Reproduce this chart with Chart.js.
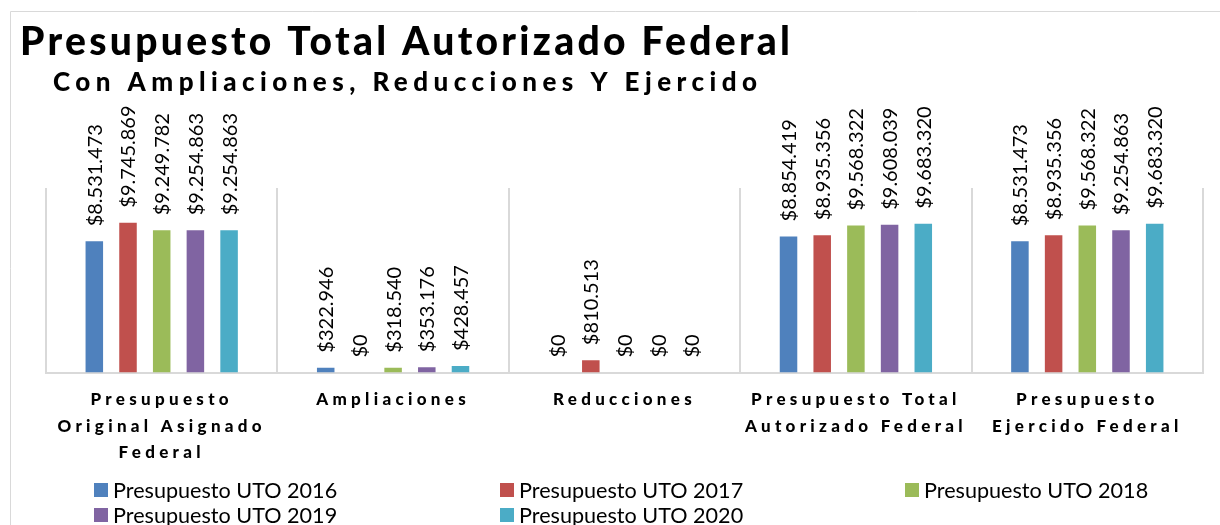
<!DOCTYPE html>
<html><head><meta charset="utf-8">
<script src="https://cdn.jsdelivr.net/npm/chart.js@4.4.1/dist/chart.umd.min.js"></script>
<style>html,body{margin:0;padding:0;background:#fff;} #wrap{width:1220px;height:525px;}</style>
</head><body><div id="wrap"><canvas id="c" width="1220" height="525"></canvas></div>
<script>
const titleText = 'Presupuesto Total Autorizado Federal';
const subtitleText = 'Con Ampliaciones, Reducciones Y Ejercido';
const categories = [
  ['Presupuesto', 'Original Asignado', 'Federal'],
  ['Ampliaciones'],
  ['Reducciones'],
  ['Presupuesto Total', 'Autorizado Federal'],
  ['Presupuesto', 'Ejercido Federal']
];
const seriesNames = ['Presupuesto UTO 2016', 'Presupuesto UTO 2017', 'Presupuesto UTO 2018', 'Presupuesto UTO 2019', 'Presupuesto UTO 2020'];
const uto2016 = [8531473, 322946, 0, 8854419, 8531473];
const uto2017 = [9745869, 0, 810513, 8935356, 8935356];
const uto2018 = [9249782, 318540, 0, 9568322, 9568322];
const uto2019 = [9254863, 353176, 0, 9608039, 9254863];
const uto2020 = [9254863, 428457, 0, 9683320, 9683320];
const seriesColors = ['#4F81BD', '#C0504D', '#9BBB59', '#8064A2', '#4BACC6'];
const yMax = 12000000;

const seriesValues = [uto2016, uto2017, uto2018, uto2019, uto2020];

function fmt(v) {
  return '$' + String(v).replace(/\B(?=(\d{3})+(?!\d))/g, '.');
}

function drawSpaced(ctx, text, x, y, font, target) {
  ctx.font = font;
  ctx.letterSpacing = '0px';
  const w = ctx.measureText(text).width;
  const ls = (target - w) / (text.length - 1);
  ctx.letterSpacing = ls + 'px';
  ctx.fillText(text, x, y);
  ctx.letterSpacing = '0px';
}

const decorPlugin = {
  id: 'decor',
  beforeDraw(chart) {
    const s = chart.scales.x;
    if (s && !s._spacedWrap) {
      const orig = s.drawLabels.bind(s);
      s.drawLabels = function (ca) {
        const c = this.ctx;
        c.save();
        c.letterSpacing = '4.3px';
        orig(ca);
        c.restore();
      };
      s._spacedWrap = true;
    }
  },
  afterDraw(chart) {
    const ctx = chart.ctx;
    ctx.save();
    ctx.strokeStyle = '#d9d9d9';
    ctx.lineWidth = 1;
    ctx.beginPath();
    ctx.moveTo(10.5, 525);
    ctx.lineTo(10.5, 11.5);
    ctx.lineTo(1220, 11.5);
    ctx.stroke();
    ctx.fillStyle = '#000';
    ctx.textAlign = 'left';
    ctx.textBaseline = 'alphabetic';
    drawSpaced(ctx, titleText, 20, 55, '900 39px Lato', 770);
    drawSpaced(ctx, subtitleText, 53, 91, '900 26px Lato', 704);
    const cols = [94, 500, 905];
    const rows = [490, 515];
    ctx.font = '21.6px Lato';
    ctx.textBaseline = 'middle';
    chart.data.datasets.forEach((ds, i) => {
      const bx = cols[i % 3];
      const cy = rows[Math.floor(i / 3)];
      ctx.fillStyle = ds.backgroundColor;
      ctx.fillRect(bx, cy - 7, 14, 14);
      ctx.fillStyle = '#000';
      ctx.fillText(ds.label, bx + 19, cy + 1);
    });
    ctx.restore();
  },
  afterDatasetsDraw(chart) {
    const ctx = chart.ctx;
    ctx.save();
    ctx.font = '20px Lato';
    ctx.fillStyle = '#000';
    ctx.textAlign = 'left';
    ctx.textBaseline = 'middle';
    chart.data.datasets.forEach((ds, di) => {
      const meta = chart.getDatasetMeta(di);
      meta.data.forEach((el, i) => {
        ctx.save();
        ctx.translate(el.x, el.y - 15);
        ctx.rotate(-Math.PI / 2);
        ctx.fillText(fmt(ds.data[i]), 0, 1);
        ctx.restore();
      });
    });
    ctx.restore();
  }
};

new Chart(document.getElementById('c'), {
  type: 'bar',
  data: {
    labels: categories,
    datasets: seriesNames.map((n, i) => ({
      label: n,
      data: seriesValues[i],
      backgroundColor: seriesColors[i],
      borderWidth: 0,
      categoryPercentage: 0.728,
      barPercentage: 0.52
    }))
  },
  options: {
    responsive: false,
    animation: false,
    devicePixelRatio: 1,
    layout: { padding: { left: 46, right: 17, top: 188, bottom: 0 } },
    plugins: { legend: { display: false }, title: { display: false }, tooltip: { enabled: false } },
    scales: {
      x: {
        grid: { display: true, offset: true, color: '#d9d9d9', lineWidth: 2, drawTicks: false },
        border: { display: true, color: '#d9d9d9', width: 2 },
        ticks: { color: '#000', padding: 14, maxRotation: 0, autoSkip: false, font: { family: 'Lato', size: 17, weight: '900', lineHeight: 1.55 } },
        afterFit(s) { s.height = 152.4; }
      },
      y: { display: false, min: 0, max: yMax }
    }
  },
  plugins: [decorPlugin]
});
</script>
</body></html>
